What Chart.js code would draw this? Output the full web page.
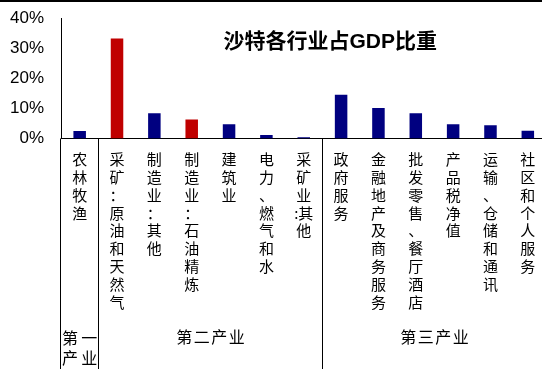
<!DOCTYPE html>
<html>
<head>
<meta charset="utf-8">
<script src="https://cdn.jsdelivr.net/npm/chart.js@4.4.1/dist/chart.umd.min.js"></script>
<style>
  html, body { margin: 0; padding: 0; background: #fff; overflow: hidden; width: 542px; height: 369px; }
  canvas { display: block; }
</style>
</head>
<body>
<canvas id="c" width="548" height="369"></canvas>
<script>
// Sector shares of Saudi GDP (%)
const categories = ['农林牧渔', '采矿：原油和天然气', '制造业：其他', '制造业：石油精炼', '建筑业',
  '电力、燃气和水', '采矿业:其他', '政府服务', '金融地产及商务服务', '批发零售、餐厅酒店',
  '产品税净值', '运输、仓储和通讯', '社区和个人服务'];
const gdpShare = [2.5, 33.2, 8.4, 6.3, 4.7, 1.2, 0.4, 14.5, 10.1, 8.4, 4.7, 4.4, 2.6];
const oilSectors = ['采矿：原油和天然气', '制造业：石油精炼'];
const sectorGroups = ['第一产业', '第二产业', '第三产业'];
const groupSizes = [1, 6, 6];
const yTicks = [0, 10, 20, 30, 40];
const chartTitle = '沙特各行业占GDP比重';

const CJK = '"Noto Sans CJK SC", "Noto Sans", sans-serif';

// Stack a label vertically, one character per line; half-width punctuation joins the next character.
function stackChars(s) {
  const out = [];
  let pending = '';
  for (const ch of Array.from(s)) {
    if (/[\x21-\x2f\x3a-\x40]/.test(ch)) { pending += ch; continue; }
    out.push(pending + ch);
    pending = '';
  }
  if (pending) out.push(pending);
  return out;
}

function drawSpaced(ctx, text, cx, y, spacing) {
  const chars = Array.from(text);
  const widths = chars.map(c => ctx.measureText(c).width);
  const total = widths.reduce((a, b) => a + b, 0) + spacing * (chars.length - 1);
  let x = cx - total / 2;
  ctx.textAlign = 'left';
  chars.forEach((c, i) => { ctx.fillText(c, x, y); x += widths[i] + spacing; });
}

function drawJustified(ctx, text, left, right, y) {
  const chars = Array.from(text);
  const widths = chars.map(c => ctx.measureText(c).width);
  const total = widths.reduce((a, b) => a + b, 0);
  const gap = chars.length > 1 ? (right - left - total) / (chars.length - 1) : 0;
  let x = chars.length > 1 ? left : (left + right - total) / 2;
  ctx.textAlign = 'left';
  chars.forEach((c, i) => { ctx.fillText(c, x, y); x += widths[i] + gap; });
}

const decor = {
  id: 'decor',
  beforeDraw(chart) {
    const { ctx, width } = chart;
    ctx.save();
    ctx.fillStyle = '#000';
    ctx.fillRect(0, 0, width, 2);
    ctx.restore();
  },
  afterDraw(chart) {
    const { ctx, chartArea: a, scales: { x } } = chart;
    const half = (x.getPixelForValue(1) - x.getPixelForValue(0)) / 2;
    const boundary = i => x.getPixelForValue(i) - half;
    const bottom = chart.height;

    ctx.save();
    // group separators below the axis
    ctx.strokeStyle = '#000';
    ctx.lineWidth = 1;
    let start = 0;
    const starts = groupSizes.map(n => { const s = start; start += n; return s; });
    starts.forEach(s => {
      const px = Math.floor(boundary(s)) + 0.5;
      ctx.beginPath();
      ctx.moveTo(px, a.bottom);
      ctx.lineTo(px, bottom);
      ctx.stroke();
    });

    // group names
    ctx.fillStyle = '#000';
    ctx.font = '16px ' + CJK;
    ctx.textBaseline = 'middle';
    const labelY = bottom - 32;
    sectorGroups.forEach((name, g) => {
      const l = boundary(starts[g]);
      const r = boundary(starts[g] + groupSizes[g]);
      if (ctx.measureText(name).width > r - l - 6) {
        const chars = Array.from(name);
        const mid = Math.ceil(chars.length / 2);
        drawJustified(ctx, chars.slice(0, mid).join(''), l + 1, r - 1, labelY + 1);
        drawJustified(ctx, chars.slice(mid).join(''), l + 1, r - 1, labelY + 21);
      } else {
        drawSpaced(ctx, name, (l + r) / 2, labelY, 1.5);
      }
    });

    // title
    ctx.font = 'bold 21px "Liberation Sans", ' + CJK;
    ctx.textAlign = 'center';
    ctx.fillText(chartTitle, a.left + a.width * 0.5545, a.top + 24);
    ctx.restore();
  }
};

new Chart(document.getElementById('c'), {
  type: 'bar',
  data: {
    labels: categories,
    datasets: [{
      data: gdpShare,
      backgroundColor: ctx => oilSectors.includes(categories[ctx.dataIndex]) ? '#C00000' : '#000080',
      borderWidth: 0,
      barPercentage: 0.335,
      categoryPercentage: 1
    }]
  },
  options: {
    responsive: false,
    animation: false,
    layout: { padding: { top: 0, right: 1.5, left: 0, bottom: 0 } },
    plugins: { legend: { display: false }, tooltip: { enabled: false } },
    scales: {
      x: {
        grid: { display: false, drawTicks: false },
        border: { display: true, color: '#000', width: 1 },
        ticks: {
          autoSkip: false, maxRotation: 0, minRotation: 0, padding: 12, color: '#000',
          font: { family: CJK, size: 15, lineHeight: 17.8 / 15 },
          callback: (v, i) => stackChars(categories[i])
        },
        afterFit: s => { s.height = 230.5; }
      },
      y: {
        min: 0, max: 40,
        grid: { display: false, drawTicks: false },
        border: { display: true, color: '#000', width: 1 },
        ticks: {
          padding: 17, color: '#000',
          font: { family: '"Liberation Sans", Arial, sans-serif', size: 17 },
          callback: v => v + '%'
        },
        afterBuildTicks: s => { s.ticks = yTicks.map(v => ({ value: v })); },
        afterFit: s => { s.width = 61; s.paddingTop = 18; s.paddingBottom = 0; }
      }
    }
  },
  plugins: [decor]
});
</script>
</body>
</html>
